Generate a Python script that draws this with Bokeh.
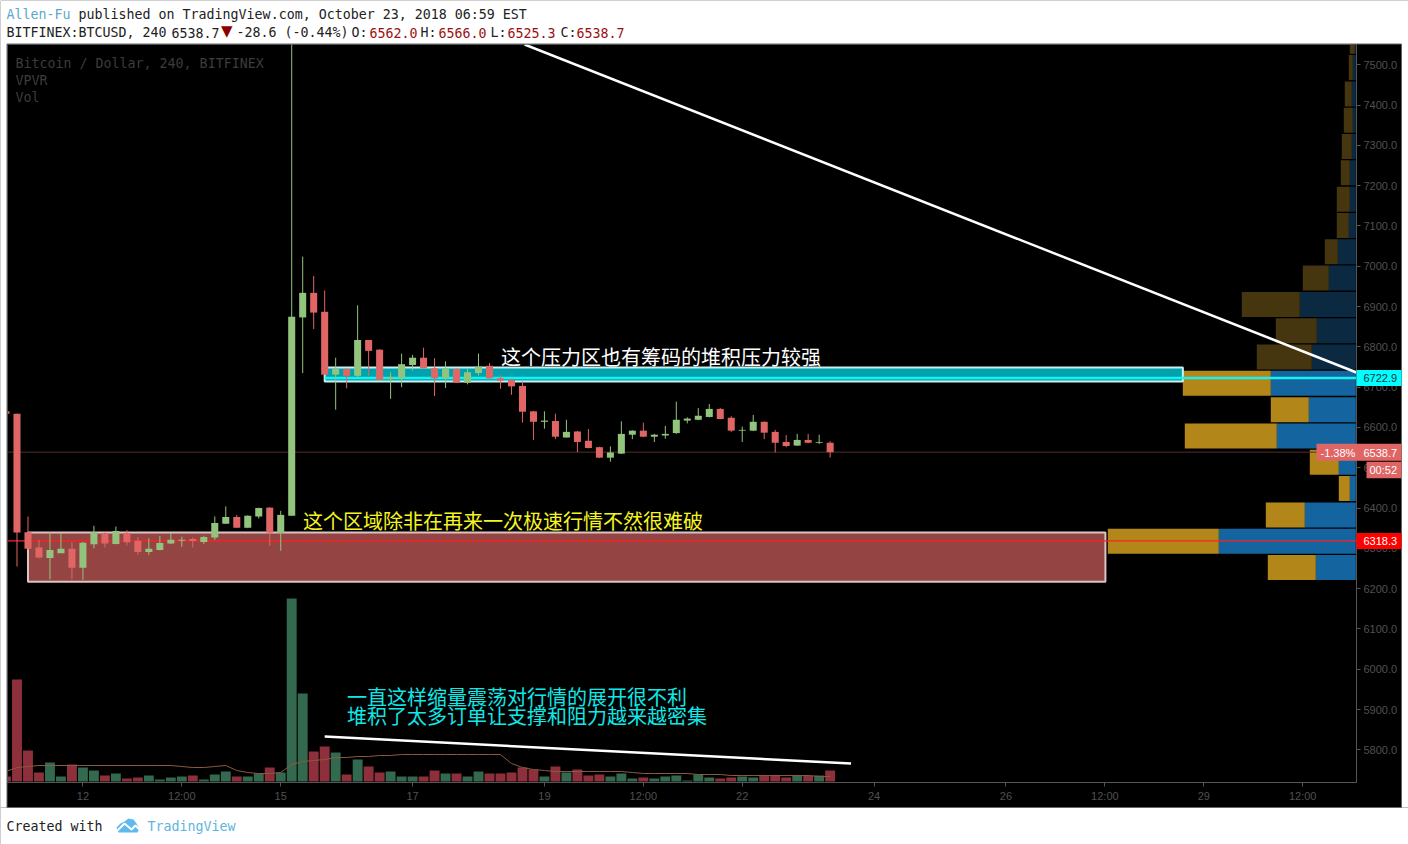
from bokeh.plotting import figure
from bokeh.layouts import column
from bokeh.embed import file_html
from bokeh.resources import INLINE
from bokeh.models import Range1d, FixedTicker, NumeralTickFormatter, Label

# candles, first one is the cut off bar at the left edge
opens = [6640, 6634, 6340, 6302, 6276, 6288, 6299, 6252, 6310, 6338, 6311, 6338, 6319, 6291, 6296, 6312, 6319, 6323, 6316, 6327,
         6361, 6378, 6351, 6379, 6401, 6338, 6381, 6873, 6934, 6887, 6731, 6745, 6728, 6817, 6793, 6720, 6722, 6755, 6773, 6747,
         6722, 6745, 6711, 6735, 6753, 6722, 6718, 6703, 6640, 6614, 6616, 6575, 6590, 6567, 6551, 6525, 6535, 6582, 6592, 6577,
         6580, 6586, 6617, 6619, 6626, 6646, 6624, 6592, 6592, 6614, 6589, 6564, 6555, 6569, 6562, 6562]
closes = [6634, 6339, 6299, 6277, 6296, 6299, 6252, 6314, 6340, 6312, 6343, 6315, 6291, 6299, 6313, 6321, 6321, 6318, 6328, 6363,
          6378, 6351, 6381, 6400, 6339, 6383, 6875, 6934, 6885, 6731, 6745, 6728, 6817, 6790, 6718, 6725, 6757, 6773, 6747, 6722,
          6745, 6711, 6737, 6751, 6722, 6716, 6702, 6639, 6614, 6617, 6577, 6589, 6564, 6549, 6525, 6538, 6584, 6592, 6577, 6582,
          6584, 6619, 6622, 6629, 6646, 6621, 6592, 6594, 6614, 6587, 6562, 6554, 6569, 6562, 6564, 6538.7]
highs = [6642, 6634, 6379, 6321, 6340, 6338, 6315, 6316, 6356, 6340, 6354, 6345, 6328, 6325, 6331, 6338, 6329, 6327, 6331, 6379,
         6404, 6383, 6382, 6401, 6402, 6393, 7560, 7024, 6976, 6940, 6773, 6746, 6903, 6817, 6794, 6737, 6783, 6780, 6798, 6772,
         6764, 6746, 6745, 6783, 6760, 6731, 6720, 6714, 6641, 6640, 6634, 6619, 6591, 6596, 6552, 6553, 6615, 6593, 6612, 6584,
         6604, 6664, 6625, 6648, 6658, 6648, 6628, 6602, 6631, 6615, 6594, 6581, 6584, 6584, 6582, 6566]
lows = [6634, 6255, 6296, 6275, 6223, 6293, 6223, 6222, 6300, 6302, 6310, 6307, 6284, 6284, 6295, 6311, 6304, 6302, 6311, 6321,
        6361, 6351, 6350, 6374, 6306, 6294, 6381, 6735, 6844, 6731, 6644, 6697, 6725, 6728, 6717, 6671, 6700, 6741, 6746, 6678,
        6698, 6710, 6707, 6729, 6721, 6696, 6681, 6612, 6569, 6597, 6571, 6575, 6539, 6548, 6524, 6515, 6534, 6571, 6576, 6564,
        6572, 6584, 6610, 6618, 6625, 6620, 6589, 6564, 6591, 6571, 6538, 6551, 6554, 6561, 6559, 6525.3]
bar_index = list(range(-1, 75))

volumes = [5, 102, 31, 9, 19, 5, 17, 14, 11, 6, 8, 3, 4, 6, 2, 4, 5, 6, 2, 7,
           10, 5, 5, 8, 14, 9, 183, 88, 30, 35, 29, 7, 22, 15, 9, 10, 5, 5, 5, 11,
           8, 8, 5, 10, 8, 8, 9, 14, 12, 5, 15, 9, 12, 6, 7, 5, 8, 3, 4, 3,
           5, 6, 1, 7, 4, 3, 4, 5, 4, 6, 6, 4, 6, 6, 6, 11]
vol_ma = [10, 14, 15, 16, 16, 16, 16, 16, 16, 16, 16, 16, 16, 16, 16, 16, 15, 14, 14, 15,
          16, 11, 9, 8, 8, 9, 17, 20, 21, 22, 24, 24, 25, 25, 26, 26, 27, 27, 27, 27,
          27, 27, 27, 27, 27, 27, 18, 14, 12, 11, 10, 10, 10, 10, 10, 10, 10, 9, 8, 8,
          8, 8, 8, 7, 7, 7, 6, 6, 6, 6, 6, 6, 6, 6, 5, 5]

# volume profile rows, bottom row first
vp_start = 6221.3
vp_step = 65.3
vp_up = [40, 137, 51, 6, 17, 79, 47, 85, 44, 39, 56, 27, 18, 7, 6, 6, 4, 3, 4, 3, 1]
vp_down = [48, 111, 39, 11, 29, 92, 38, 88, 55, 41, 58, 26, 13, 12, 13, 9, 10, 9, 7, 4, 5]
vp_bright_rows = 8

price_ticks = [5800, 5900, 6000, 6100, 6200, 6300, 6400, 6500, 6600, 6700, 6800, 6900, 7000, 7100, 7200, 7300, 7400, 7500]
time_ticks = [6, 15, 24, 36, 48, 57, 66, 78, 90, 99, 108, 117]
time_labels = ["12", "12:00", "15", "17", "19", "12:00", "22", "24", "26", "12:00", "29", "12:00"]

last_price = 6538.7
support_level = 6318.3
resist_level = 6722.9

# frame edges in page pixels
LEFT, RIGHT, TOP, BOTTOM = 7, 1356, 44, 782
X_START, X_END = -0.864, 121.9
Y_START, Y_END = 5718.9, 7550.3

UP = "#93c47d"
DOWN = "#e06666"
MONO = "DejaVu Sans Mono"
SANS = "Liberation Sans"
CJK = "Noto Sans CJK SC"

p = figure(width=1408, height=844, output_backend="svg", toolbar_location=None,
           x_range=Range1d(X_START, X_END), y_range=Range1d(Y_START, Y_END),
           y_axis_location="right", background_fill_color="black", border_fill_color="black",
           min_border_left=LEFT, min_border_right=1408 - RIGHT, min_border_top=TOP,
           min_border_bottom=844 - BOTTOM, frame_align=False)
p.outline_line_color = None
p.grid.visible = False
p.extra_y_ranges = {"vol": Range1d(-1, 737)}
p.extra_x_ranges = {"vp": Range1d(1348.3, -0.7)}

p.xaxis.ticker = FixedTicker(ticks=time_ticks)
p.xaxis.major_label_overrides = dict(zip(time_ticks, time_labels))
p.yaxis.ticker = FixedTicker(ticks=price_ticks)
p.yaxis.formatter = NumeralTickFormatter(format="0.0")
for ax in (p.xaxis[0], p.yaxis[0]):
    ax.axis_line_color = "#555555"
    ax.major_tick_line_color = "#555555"
    ax.minor_tick_line_color = None
    ax.major_tick_out = 4
    ax.major_tick_in = 0
    ax.major_label_text_color = "#505050"
    ax.major_label_text_font = SANS
    ax.major_label_text_font_size = "11px"
    ax.major_label_standoff = 3

# volume profile
vp_bottom = [vp_start + i * vp_step for i in range(len(vp_up))]
vp_top = [b + vp_step * 0.95 for b in vp_bottom]
vp_blue = ["#14649f" if i < vp_bright_rows else "#0b2a42" for i in range(len(vp_up))]
vp_gold = ["#b3861a" if i < vp_bright_rows else "#46360f" for i in range(len(vp_up))]
vp_total = [u + d for u, d in zip(vp_up, vp_down)]
p.quad(left=0, right=vp_up, bottom=vp_bottom, top=vp_top, fill_color=vp_blue, line_color=None, x_range_name="vp")
p.quad(left=vp_up, right=vp_total, bottom=vp_bottom, top=vp_top, fill_color=vp_gold, line_color=None, x_range_name="vp")

# zones
p.quad(left=28, right=106.1, bottom=6714, top=6749, fill_color="#00a3ad", line_color="#c8f0f0", line_width=2)
p.quad(left=1, right=99.05, bottom=6217.3, top=6339.3, fill_color="#954444", line_color="#dcc4c4", line_width=2)

# price lines
p.line([28, X_END], [resist_level, resist_level], line_color="#19f0f0", line_width=2.5)
p.line([X_START, X_END], [support_level, support_level], line_color="#ff2020", line_width=1.3)
p.line([X_START, X_END], [last_price, last_price], line_color="#5a2a2a", line_width=1)

# volume
is_up = [c >= o for o, c in zip(opens, closes)]
p.vbar(x=bar_index, width=0.9, bottom=0, top=volumes, y_range_name="vol", line_color=None,
       fill_color=["#33694f" if u else "#8e2f3c" for u in is_up])
p.line(bar_index, vol_ma, y_range_name="vol", line_color="#8a5a3c", line_width=1)

# candles
colors = [UP if u else DOWN for u in is_up]
p.segment(bar_index, highs, bar_index, lows, line_color=colors, line_width=1)
p.vbar(x=bar_index, width=0.64, bottom=opens, top=closes, fill_color=colors, line_color=None)

# drawn trend lines
p.line([46.2, X_END], [7550.3, 6736.3], line_color="white", line_width=2.5)
p.line([28, 75.9], [5832.9, 5765.9], line_color="white", line_width=2.5)

# second figure on top of the first, its scale is just page pixels.
# annotations of the chart get clipped to its frame so the page furniture lives here
ov = figure(width=1408, height=844, output_backend="svg", toolbar_location=None,
            x_range=Range1d(0, 1408), y_range=Range1d(844, 0), x_axis_type=None, y_axis_type=None,
            background_fill_alpha=0, border_fill_alpha=0, min_border=0, margin=(-844, 0, 0, 0),
            frame_align=False)
ov.outline_line_color = None
ov.grid.visible = False

# white page round the black widget
ov.quad(left=[0, 0, 0, 1401], right=[1408, 1408, 6.5, 1408], top=[0, 807, 43.5, 43.5], bottom=[43.5, 844, 807, 807],
        fill_color="white", line_color=None)
ov.quad(left=6.5, right=1401, top=43.5, bottom=807, fill_alpha=0, line_color="#666666", line_width=1)


def price_y(price):
    return TOP + (Y_END - price) * (BOTTOM - TOP) / (Y_END - Y_START)


def text(x, y, s, color="#222222", font=MONO, size="13.3px"):
    ov.add_layout(Label(x=x, y=y, text=s, text_color=color, text_font=font, text_font_size=size,
                        text_align="left", text_baseline="middle"))


def tag(left, right, y0, y1, color):
    ov.quad(left=left, right=right, top=y0, bottom=y1, fill_color=color, line_color=None)


# header
text(6, 14, "Allen-Fu", color="#5fa8c8")
text(78, 14, "published on TradingView.com, October 23, 2018 06:59 EST")
text(6, 32, "BITFINEX:BTCUSD, 240")
text(171, 32, "6538.7")
text(220.5, 30, "▼", color="#8b0000", font="DejaVu Sans", size="15px")
text(236, 32, "-28.6 (-0.44%)")
text(351, 32, "O:")
text(369, 32, "6562.0", color="#9a1010")
text(420, 32, "H:")
text(438, 32, "6566.0", color="#9a1010")
text(490, 32, "L:")
text(507, 32, "6525.3", color="#9a1010")
text(560, 32, "C:")
text(576, 32, "6538.7", color="#9a1010")

# legend at the top left of the pane
text(15, 63, "Bitcoin / Dollar, 240, BITFINEX", color="#3c3c3c")
text(15, 80, "VPVR", color="#3c3c3c")
text(15, 97, "Vol", color="#3c3c3c")

# notes on the chart
text(500.5, 356, "这个压力区也有筹码的堆积压力较强", color="white", font=CJK, size="20px")
text(302.5, 520, "这个区域除非在再来一次极速行情不然很难破", color="#f5f520", font=CJK, size="20px")
text(346.5, 696, "一直这样缩量震荡对行情的展开很不利", color="#10e8e8", font=CJK, size="20px")
text(346.5, 715, "堆积了太多订单让支撑和阻力越来越密集", color="#10e8e8", font=CJK, size="20px")

# price tags on the scale
y = price_y(resist_level)
tag(1356, 1401, y - 8, y + 8, "#00ffff")
text(1363, y + 0.5, "6722.9", color="#13323a", font=SANS, size="11px")
y = price_y(last_price)
tag(1316, 1401, y - 8.5, y + 8.5, DOWN)
text(1320, y + 0.5, "-1.38%", color="white", font=SANS, size="11px")
text(1363, y + 0.5, "6538.7", color="white", font=SANS, size="11px")
tag(1366, 1401, y + 9.5, y + 26, DOWN)
text(1369, y + 18, "00:52", color="white", font=SANS, size="11px")
y = price_y(support_level)
tag(1356, 1401, y - 8, y + 8, "#ff0000")
text(1363, y + 0.5, "6318.3", color="white", font=SANS, size="11px")

# footer
text(6, 826, "Created with")
text(147, 826, "TradingView", color="#5fb3e0")
ov.patch([116, 120, 124, 128, 133, 136, 139, 137, 118], [827, 823, 821, 818, 819, 823, 828, 832, 832],
         fill_color="#5fb9ee", line_color=None)
ov.line([117, 124, 131, 135, 140], [830, 823, 829, 825, 830], line_color="white", line_width=2)

open("out.html", "w").write(file_html(column(p, ov), INLINE))
